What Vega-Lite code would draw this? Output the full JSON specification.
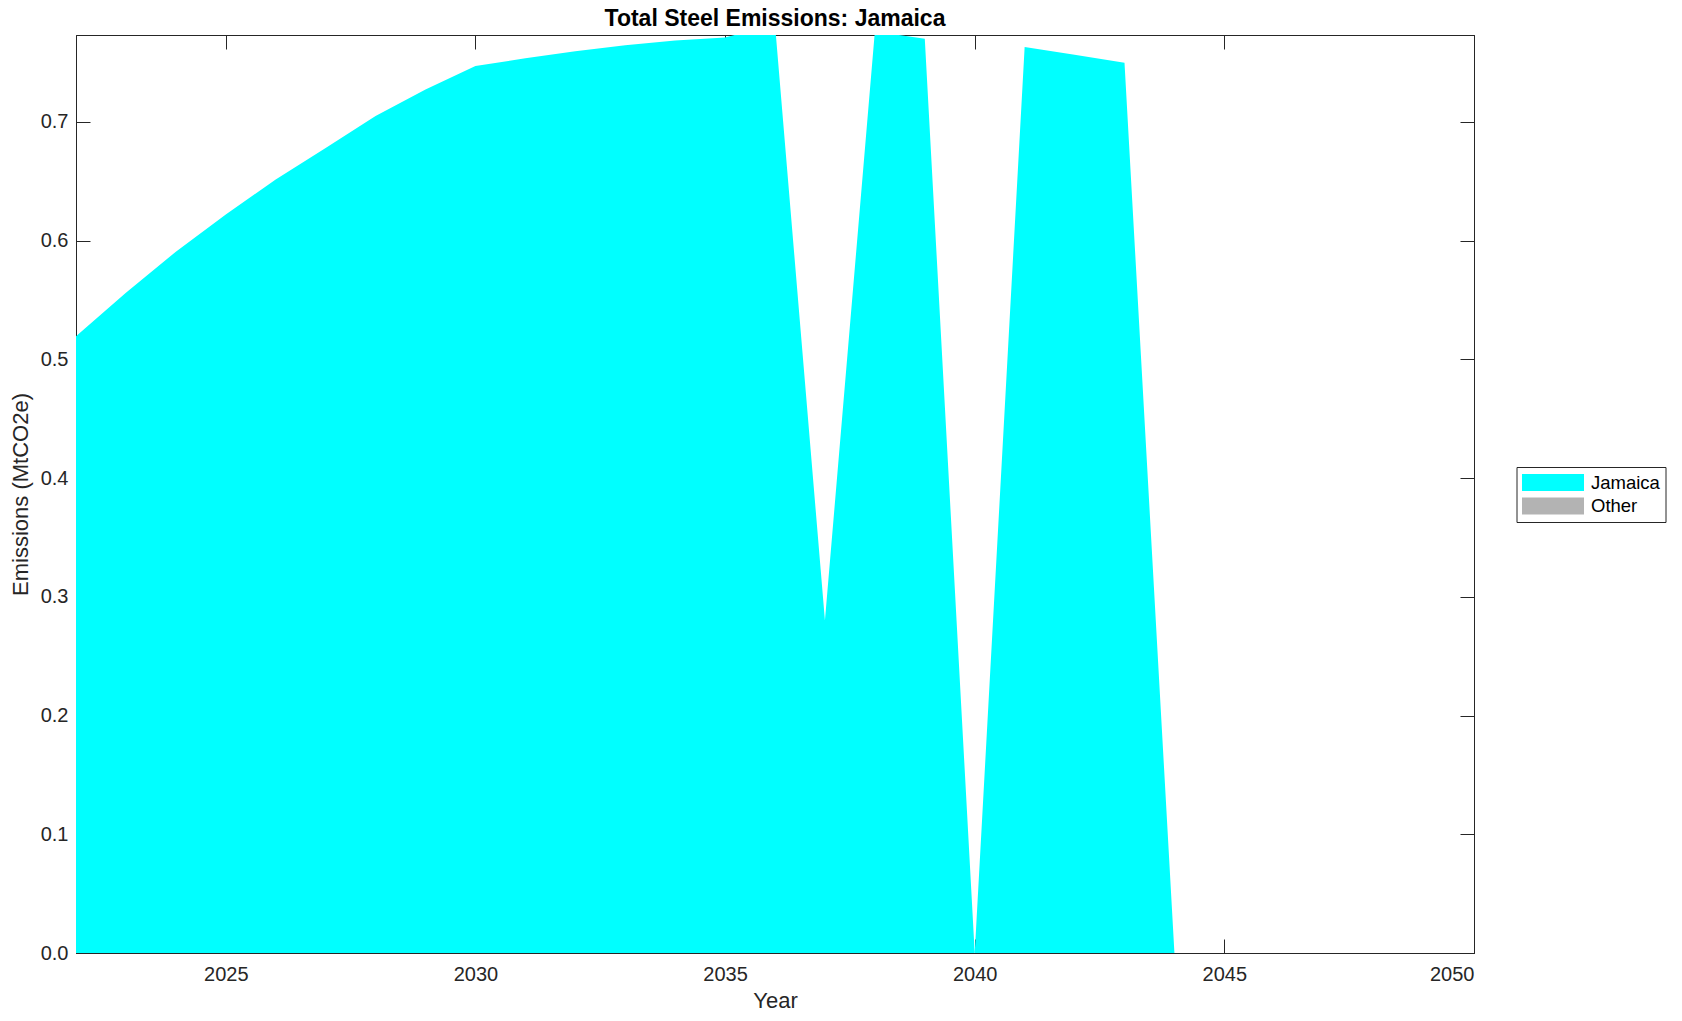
{
  "$schema": "https://vega.github.io/schema/vega-lite/v6.json",
  "width": 1398,
  "height": 918,
  "autosize": {"type": "none"},
  "padding": {"left": 76, "top": 35, "right": 208, "bottom": 68},
  "background": "white",
  "config": {
    "font": "Liberation Sans",
    "view": {"stroke": "#262626", "strokeWidth": 1},
    "axis": {
      "grid": false,
      "domainColor": "#262626",
      "tickColor": "#262626",
      "labelColor": "#262626",
      "titleColor": "#262626",
      "labelFontSize": 20,
      "titleFontSize": 22,
      "titleFontWeight": "normal",
      "tickSize": -14,
      "labelPadding": 25
    }
  },
  "title": {
    "text": "Total Steel Emissions: Jamaica",
    "fontSize": 23,
    "fontWeight": "bold",
    "color": "#000000",
    "anchor": "middle",
    "offset": -9
  },
  "data": {
    "values": [
      {"year": 2022, "series": "Jamaica", "value": 0.5195},
      {"year": 2023, "series": "Jamaica", "value": 0.556},
      {"year": 2024, "series": "Jamaica", "value": 0.5906},
      {"year": 2025, "series": "Jamaica", "value": 0.622},
      {"year": 2026, "series": "Jamaica", "value": 0.6515},
      {"year": 2027, "series": "Jamaica", "value": 0.678},
      {"year": 2028, "series": "Jamaica", "value": 0.7048},
      {"year": 2029, "series": "Jamaica", "value": 0.7273},
      {"year": 2030, "series": "Jamaica", "value": 0.747},
      {"year": 2031, "series": "Jamaica", "value": 0.7535},
      {"year": 2032, "series": "Jamaica", "value": 0.7595},
      {"year": 2033, "series": "Jamaica", "value": 0.7645},
      {"year": 2034, "series": "Jamaica", "value": 0.7685},
      {"year": 2035, "series": "Jamaica", "value": 0.771},
      {"year": 2036, "series": "Jamaica", "value": 0.782},
      {"year": 2037, "series": "Jamaica", "value": 0.28},
      {"year": 2038, "series": "Jamaica", "value": 0.776},
      {"year": 2039, "series": "Jamaica", "value": 0.77},
      {"year": 2040, "series": "Jamaica", "value": 0.0},
      {"year": 2041, "series": "Jamaica", "value": 0.763},
      {"year": 2042, "series": "Jamaica", "value": 0.7565},
      {"year": 2043, "series": "Jamaica", "value": 0.7498},
      {"year": 2044, "series": "Jamaica", "value": 0.0},
      {"year": 2045, "series": "Jamaica", "value": 0.0},
      {"year": 2046, "series": "Jamaica", "value": 0.0},
      {"year": 2047, "series": "Jamaica", "value": 0.0},
      {"year": 2048, "series": "Jamaica", "value": 0.0},
      {"year": 2049, "series": "Jamaica", "value": 0.0},
      {"year": 2050, "series": "Jamaica", "value": 0.0},
      {"year": 2022, "series": "Other", "value": 0.0},
      {"year": 2023, "series": "Other", "value": 0.0},
      {"year": 2024, "series": "Other", "value": 0.0},
      {"year": 2025, "series": "Other", "value": 0.0},
      {"year": 2026, "series": "Other", "value": 0.0},
      {"year": 2027, "series": "Other", "value": 0.0},
      {"year": 2028, "series": "Other", "value": 0.0},
      {"year": 2029, "series": "Other", "value": 0.0},
      {"year": 2030, "series": "Other", "value": 0.0},
      {"year": 2031, "series": "Other", "value": 0.0},
      {"year": 2032, "series": "Other", "value": 0.0},
      {"year": 2033, "series": "Other", "value": 0.0},
      {"year": 2034, "series": "Other", "value": 0.0},
      {"year": 2035, "series": "Other", "value": 0.0},
      {"year": 2036, "series": "Other", "value": 0.0},
      {"year": 2037, "series": "Other", "value": 0.0},
      {"year": 2038, "series": "Other", "value": 0.0},
      {"year": 2039, "series": "Other", "value": 0.0},
      {"year": 2040, "series": "Other", "value": 0.0},
      {"year": 2041, "series": "Other", "value": 0.0},
      {"year": 2042, "series": "Other", "value": 0.0},
      {"year": 2043, "series": "Other", "value": 0.0},
      {"year": 2044, "series": "Other", "value": 0.0},
      {"year": 2045, "series": "Other", "value": 0.0},
      {"year": 2046, "series": "Other", "value": 0.0},
      {"year": 2047, "series": "Other", "value": 0.0},
      {"year": 2048, "series": "Other", "value": 0.0},
      {"year": 2049, "series": "Other", "value": 0.0},
      {"year": 2050, "series": "Other", "value": 0.0}
    ]
  },
  "layer": [
    {
      "mark": {"type": "area", "clip": true, "interpolate": "linear"},
      "encoding": {
        "x": {
          "field": "year",
          "type": "quantitative",
          "scale": {"domain": [2022, 2050], "nice": false, "zero": false},
          "axis": {
            "orient": "bottom",
            "values": [2025, 2030, 2035, 2040, 2045, 2050],
            "format": "d",
            "title": "Year",
            "titlePadding": 6
          }
        },
        "y": {
          "field": "value",
          "type": "quantitative",
          "stack": "zero",
          "scale": {"domain": [0, 0.7731], "nice": false},
          "axis": {
            "orient": "left",
            "values": [0, 0.1, 0.2, 0.3, 0.4, 0.5, 0.6, 0.7],
            "format": ".1f",
            "title": "Emissions (MtCO2e)",
            "labelPadding": 22,
            "titlePadding": 8
          }
        },
        "color": {
          "field": "series",
          "type": "nominal",
          "scale": {"domain": ["Jamaica", "Other"], "range": ["#00FFFF", "#B3B3B3"]},
          "legend": {
            "title": null,
            "orient": "none",
            "legendX": 1440.5,
            "legendY": 432,
            "symbolType": "M-1,-0.274L1,-0.274L1,0.274L-1,0.274Z",
            "symbolSize": 3844,
            "symbolStrokeWidth": 0,
            "labelFontSize": 18.5,
            "labelColor": "#000000",
            "labelOffset": 7,
            "padding": 5.5,
            "clipHeight": 20,
            "rowPadding": 3.5,
            "strokeColor": "#262626",
            "fillColor": "white"
          }
        }
      }
    },
    {
      "mark": {"type": "point", "opacity": 0},
      "encoding": {
        "x": {
          "field": "year",
          "type": "quantitative",
          "axis": {
            "orient": "top",
            "values": [2025, 2030, 2035, 2040, 2045, 2050],
            "labels": false,
            "title": null
          }
        },
        "y": {
          "field": "value",
          "type": "quantitative",
          "axis": {
            "orient": "right",
            "values": [0, 0.1, 0.2, 0.3, 0.4, 0.5, 0.6, 0.7],
            "labels": false,
            "title": null
          }
        }
      }
    }
  ],
  "resolve": {"axis": {"x": "independent", "y": "independent"}}
}
